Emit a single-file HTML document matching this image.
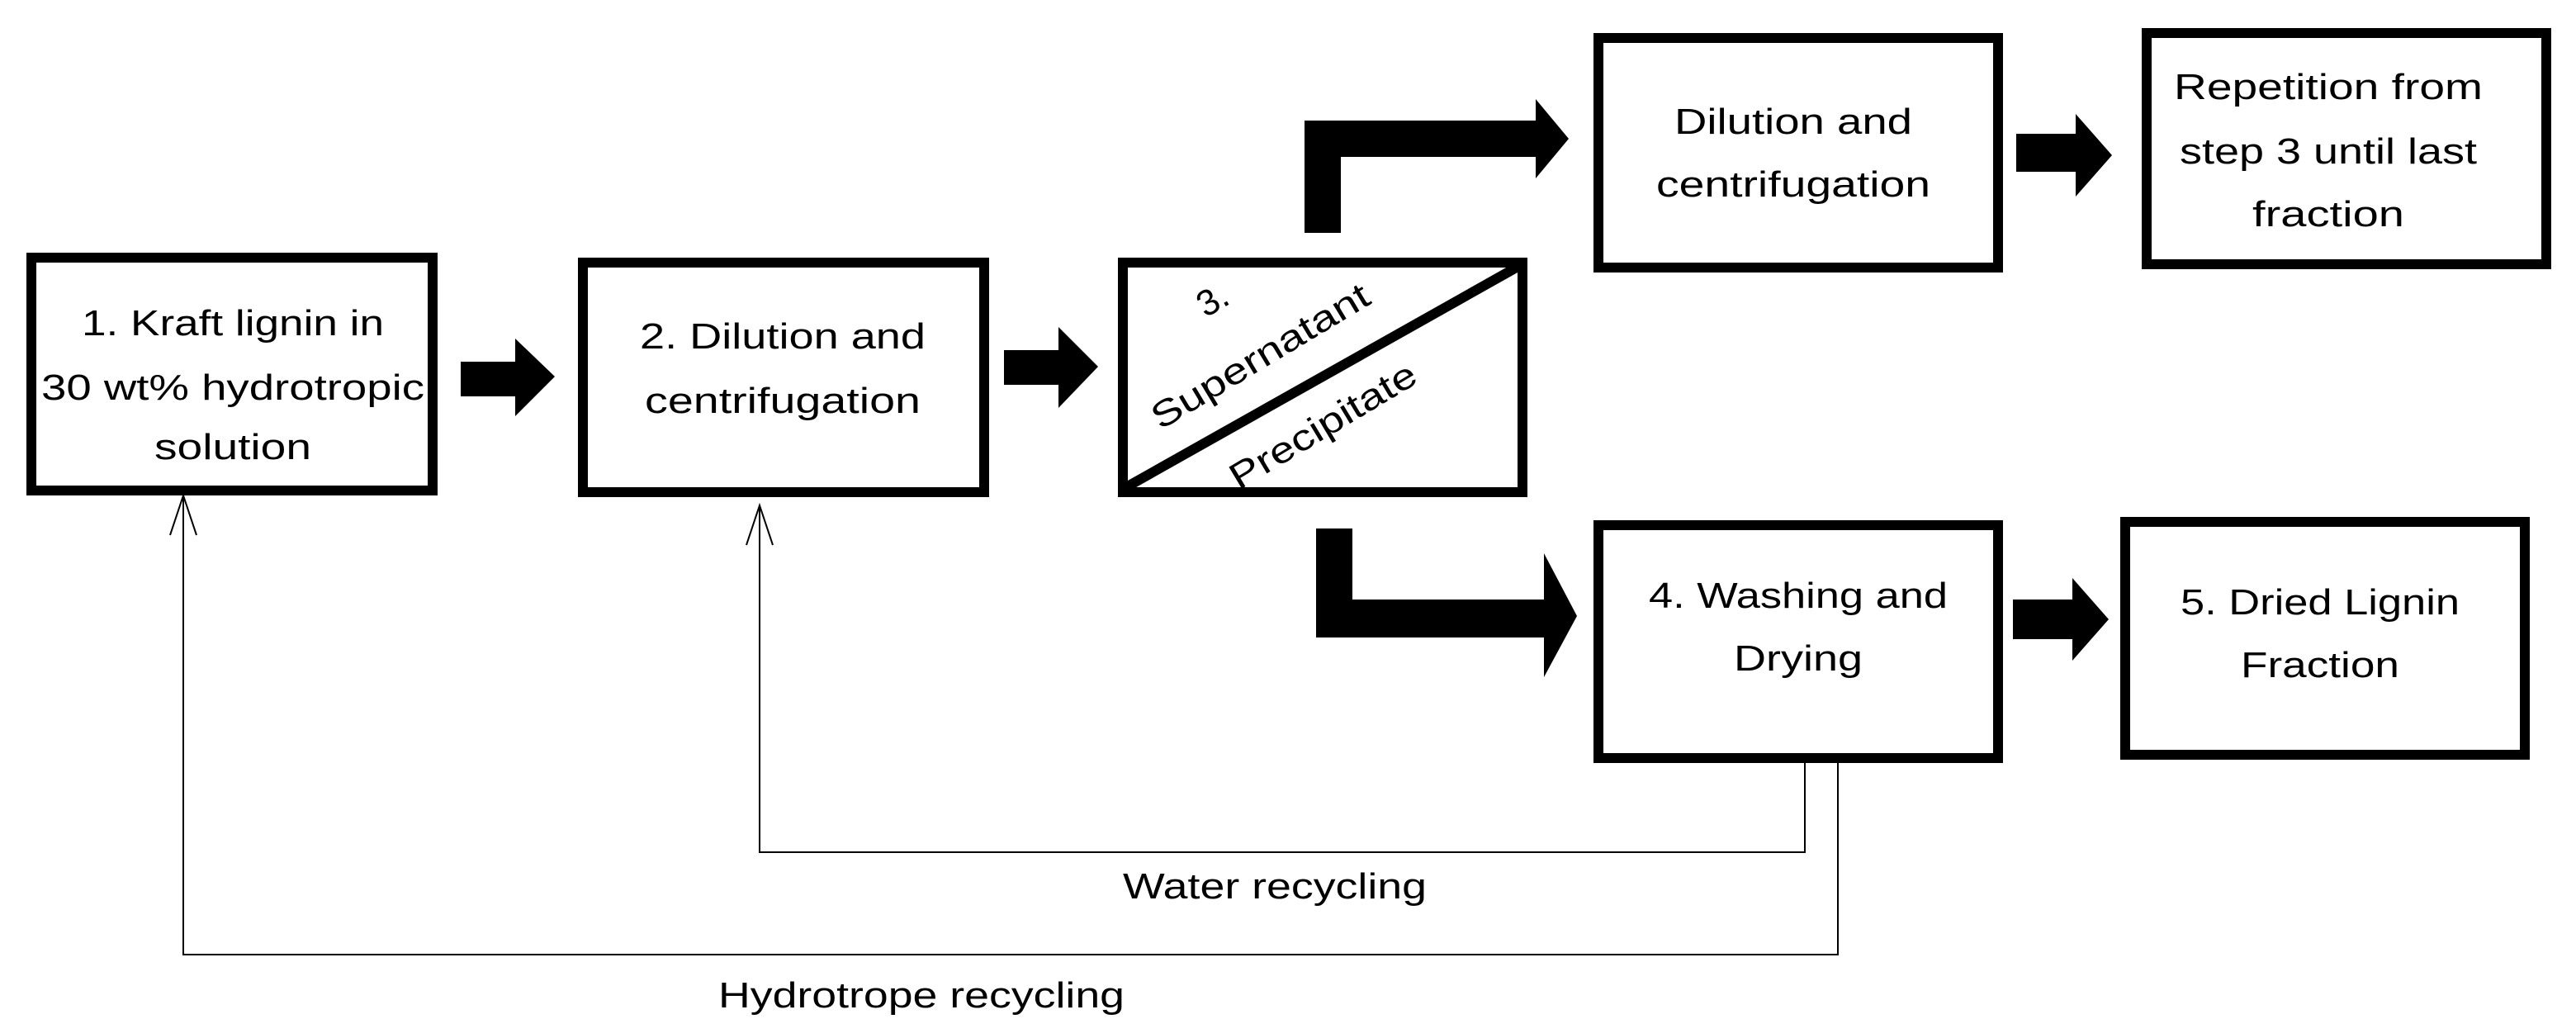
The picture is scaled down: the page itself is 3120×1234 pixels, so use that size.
<!DOCTYPE html>
<html><head><meta charset="utf-8"><style>
html,body{margin:0;padding:0;background:#fff;}
svg{display:block;}
text{font-family:"Liberation Sans",sans-serif;font-size:22px;fill:#000;}
</style></head><body>
<svg width="3120" height="1234" viewBox="0 0 1560 617" preserveAspectRatio="none" xmlns="http://www.w3.org/2000/svg">
<g fill="none" stroke="#000" stroke-width="6">
<rect x="19" y="156" width="243" height="141"/>
<rect x="353" y="159" width="243" height="139"/>
<rect x="680" y="159" width="242" height="139"/>
<rect x="968" y="23" width="242" height="139"/>
<rect x="1300" y="20" width="242" height="140"/>
<rect x="968" y="318" width="242" height="141"/>
<rect x="1287" y="316" width="242" height="141"/>
</g>
<line x1="682" y1="295" x2="920" y2="161" stroke="#000" stroke-width="6"/>
<g fill="#000">
<polygon points="279,219 312,219 312,205 336,228 312,252 312,240 279,240"/>
<polygon points="608,212 641,212 641,198 665,222 641,247 641,233 608,233"/>
<polygon points="790,141 790,73 930,73 930,60 950,84 930,108 930,95 812,95 812,141"/>
<polygon points="1221,81 1257,81 1257,69 1279,94 1257,119 1257,104 1221,104"/>
<polygon points="797,320 819,320 819,363 935,363 935,335 955,373 935,410 935,386 797,386"/>
<polygon points="1219,363 1255,363 1255,350 1277,375 1255,400 1255,387 1219,387"/>
</g>
<g fill="none" stroke="#000" stroke-width="1">
<polyline points="1093,462 1093,516 460,516 460,306"/>
<polyline points="452,330 460,306 468,330"/>
<polyline points="1113,462 1113,578 111,578 111,300"/>
<polyline points="103,324 111,300 119,324"/>
</g>
<g text-anchor="middle">
<text x="141" y="203" textLength="183" lengthAdjust="spacingAndGlyphs">1. Kraft lignin in</text>
<text x="141" y="242" textLength="232" lengthAdjust="spacingAndGlyphs">30 wt% hydrotropic</text>
<text x="141" y="278" textLength="95" lengthAdjust="spacingAndGlyphs">solution</text>
<text x="474" y="211" textLength="173" lengthAdjust="spacingAndGlyphs">2. Dilution and</text>
<text x="474" y="250" textLength="167" lengthAdjust="spacingAndGlyphs">centrifugation</text>
<text x="1086" y="81" textLength="144" lengthAdjust="spacingAndGlyphs">Dilution and</text>
<text x="1086" y="119" textLength="166" lengthAdjust="spacingAndGlyphs">centrifugation</text>
<text x="1410" y="60" textLength="187" lengthAdjust="spacingAndGlyphs">Repetition from</text>
<text x="1410" y="99" textLength="180" lengthAdjust="spacingAndGlyphs">step 3 until last</text>
<text x="1410" y="137" textLength="92" lengthAdjust="spacingAndGlyphs">fraction</text>
<text x="1089" y="368" textLength="181" lengthAdjust="spacingAndGlyphs">4. Washing and</text>
<text x="1089" y="406" textLength="78" lengthAdjust="spacingAndGlyphs">Drying</text>
<text x="1405" y="372" textLength="169" lengthAdjust="spacingAndGlyphs">5. Dried Lignin</text>
<text x="1405" y="410" textLength="96" lengthAdjust="spacingAndGlyphs">Fraction</text>
<text x="772" y="544" textLength="184" lengthAdjust="spacingAndGlyphs">Water recycling</text>
<text x="558" y="610" textLength="246" lengthAdjust="spacingAndGlyphs">Hydrotrope recycling</text>
<text transform="translate(738,188) rotate(-30)" font-size="23">3.</text>
<text transform="translate(767,222) rotate(-31)" font-size="24" textLength="150" lengthAdjust="spacingAndGlyphs">Supernatant</text>
<text transform="translate(805,264) rotate(-31)" font-size="24" textLength="128" lengthAdjust="spacingAndGlyphs">Precipitate</text>
</g>
</svg>
</body></html>
